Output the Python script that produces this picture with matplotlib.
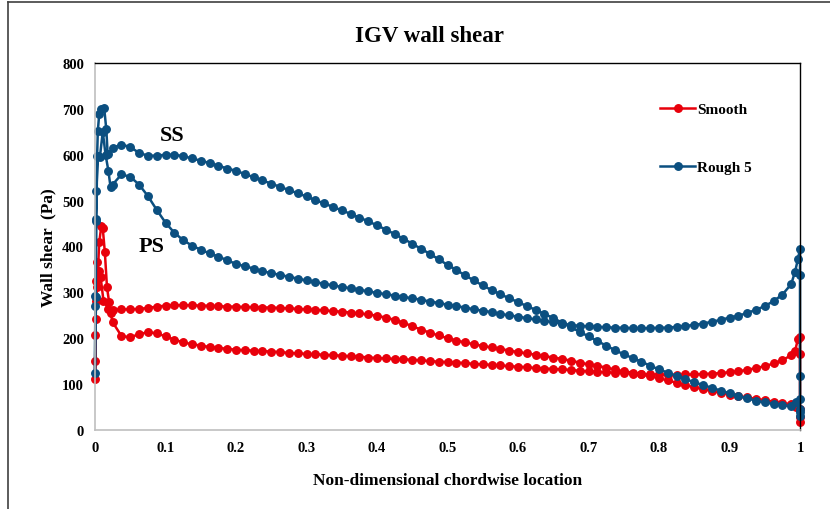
import matplotlib
matplotlib.use('Agg')
import matplotlib.pyplot as plt
from matplotlib.lines import Line2D

plt.rcParams['font.family'] = ['Liberation Serif', 'DejaVu Serif']
plt.rcParams['font.weight'] = 'bold'

# chordwise stations shared by both surfaces (away from leading / trailing edge)
chord = [0.025, 0.0375, 0.05, 0.0625, 0.075, 0.0875, 0.1, 0.1125, 0.125, 0.1375,
         0.15, 0.1625, 0.175, 0.1875, 0.2, 0.2125, 0.225, 0.2375, 0.25, 0.2625,
         0.275, 0.2875, 0.3, 0.3125, 0.325, 0.3375, 0.35, 0.3625, 0.375, 0.3875,
         0.4, 0.4125, 0.425, 0.4375, 0.45, 0.4625, 0.475, 0.4875, 0.5, 0.5125,
         0.525, 0.5375, 0.55, 0.5625, 0.575, 0.5875, 0.6, 0.6125, 0.625, 0.6375,
         0.65, 0.6625, 0.675, 0.6875, 0.7, 0.7125, 0.725, 0.7375, 0.75, 0.7625,
         0.775, 0.7875, 0.8, 0.8125, 0.825, 0.8375, 0.85, 0.8625, 0.875, 0.8875,
         0.9, 0.9125, 0.925, 0.9375, 0.95, 0.9625, 0.975, 0.9875]

rough_ss = [615, 622, 617, 604, 598, 598, 600, 600, 597, 592,
            587, 582, 576, 570, 565, 558, 551, 544, 537, 530,
            523, 516, 509, 501, 494, 486, 479, 471, 463, 455,
            446, 437, 427, 417, 406, 395, 384, 372, 360, 349,
            337, 326, 315, 305, 296, 287, 279, 270, 262, 253,
            244, 234, 224, 214, 204, 194, 184, 174, 165, 157,
            149, 140, 132, 125, 118, 111, 104, 98, 92, 86,
            80, 74, 69, 64, 60, 57, 54, 52]
rough_ps = [535, 557, 552, 535, 510, 480, 452, 430, 414, 402,
            393, 385, 378, 370, 362, 357, 352, 346, 342, 338,
            334, 330, 326, 322, 319, 315, 312, 309, 306, 302,
            299, 296, 293, 290, 287, 284, 280, 277, 273, 270,
            267, 263, 260, 257, 253, 250, 247, 244, 241, 238,
            235, 232, 229, 227, 226, 225, 224, 223, 223, 222,
            222, 222, 223, 223, 225, 227, 229, 232, 236, 240,
            245, 249, 255, 262, 270, 281, 295, 318]
smooth_ss = [262, 263, 263, 264, 266, 269, 271, 272, 272, 272,
             271, 271, 270, 269, 269, 268, 268, 267, 267, 266,
             265, 264, 263, 262, 261, 259, 258, 256, 254, 252,
             249, 245, 240, 234, 226, 219, 212, 206, 200, 195,
             191, 187, 183, 180, 177, 173, 170, 167, 164, 161,
             158, 155, 151, 147, 143, 140, 136, 132, 128, 125,
             121, 117, 113, 108, 103, 98, 93, 89, 85, 81,
             77, 74, 71, 68, 65, 62, 59, 56]
smooth_ps = [235, 205, 202, 209, 213, 211, 204, 197, 191, 187,
             184, 181, 179, 177, 175, 174, 173, 172, 171, 170,
             168, 167, 166, 165, 164, 163, 162, 161, 160, 158,
             157, 156, 155, 154, 153, 152, 150, 149, 148, 147,
             146, 144, 143, 142, 141, 139, 138, 137, 135, 134,
             133, 132, 131, 129, 128, 127, 126, 125, 124, 123,
             122, 121, 121, 120, 120, 121, 121, 122, 123, 124,
             126, 128, 131, 135, 139, 145, 152, 163]

# leading edge points, suction side -> pressure side
rough_le_x = [0.018, 0.016, 0.013, 0.009, 0.006, 0.004, 0.003, 0.002, 0.001, 0.0005,
              0.0, 0.0005, 0.001, 0.002, 0.004, 0.007, 0.011, 0.015, 0.019, 0.022]
rough_le_y = [601, 656, 702, 700, 689, 652, 598, 456, 290, 271,
              125, 293, 460, 522, 598, 596, 650, 600, 565, 530]
smooth_le_x = [0.019, 0.012, 0.008, 0.005, 0.003, 0.002, 0.001, 0.0005, 0.0, 0.0005,
               0.001, 0.003, 0.006, 0.009, 0.011, 0.014, 0.017, 0.02, 0.022]
smooth_le_y = [264, 282, 333, 347, 366, 325, 242, 151, 111, 206,
               282, 311, 409, 445, 440, 387, 311, 279, 255]

# trailing edge points
rough_te_ss_x = [1.0, 0.995]
rough_te_ss_y = [40, 61]
rough_te_ps_x = [0.993, 0.997, 1.0, 1.0, 1.0, 1.0, 1.0, 1.0]
rough_te_ps_y = [345, 372, 395, 338, 118, 68, 46, 31]
smooth_te_ss_x = [1.0, 0.995]
smooth_te_ss_y = [28, 50]
smooth_te_ps_x = [0.993, 0.997, 1.0, 1.0, 1.0, 1.0]
smooth_te_ps_y = [172, 198, 203, 166, 45, 17]

x_ticks = [0, 0.1, 0.2, 0.3, 0.4, 0.5, 0.6, 0.7, 0.8, 0.9, 1]
x_tick_labels = ['0', '0.1', '0.2', '0.3', '0.4', '0.5', '0.6', '0.7', '0.8', '0.9', '1']
y_ticks = [0, 100, 200, 300, 400, 500, 600, 700, 800]


def surface_loop(te_ss_x, te_ss_y, ss, le_x, le_y, ps, te_ps_x, te_ps_y):
    xs = te_ss_x + chord[::-1] + le_x + chord + te_ps_x
    ys = te_ss_y + ss[::-1] + le_y + ps + te_ps_y
    return xs, ys


fig = plt.figure(figsize=(8.3, 5.1), dpi=100)
ax = fig.add_axes([95 / 830, 1 - 431 / 510, 705 / 830, 367 / 510])

red = '#E8000B'
blue = '#0B4F80'

sx, sy = surface_loop(smooth_te_ss_x, smooth_te_ss_y, smooth_ss, smooth_le_x, smooth_le_y,
                      smooth_ps, smooth_te_ps_x, smooth_te_ps_y)
rx, ry = surface_loop(rough_te_ss_x, rough_te_ss_y, rough_ss, rough_le_x, rough_le_y,
                      rough_ps, rough_te_ps_x, rough_te_ps_y)
ax.plot(sx, sy, '-o', color=red, lw=1.8, ms=5.4, label='Smooth', clip_on=False)
ax.plot(rx, ry, '-o', color=blue, lw=1.8, ms=5.4, label='Rough 5', clip_on=False)

ax.set_xlim(0, 1)
ax.set_ylim(0, 800)
ax.set_xticks(x_ticks)
ax.set_xticklabels(x_tick_labels)
ax.set_yticks(y_ticks)
ax.tick_params(length=0, labelsize=10.5, pad=8)
for lab in ax.get_xticklabels() + ax.get_yticklabels():
    lab.set_fontweight('bold')

ax.spines['left'].set_color('#BFBFBF')
ax.spines['bottom'].set_color('#BFBFBF')
ax.spines['left'].set_linewidth(1.2)
ax.spines['bottom'].set_linewidth(1.2)
ax.spines['top'].set_color('black')
ax.spines['right'].set_color('black')
ax.spines['top'].set_linewidth(1.0)
ax.spines['right'].set_linewidth(1.0)

ax.text(0.109, 642, 'SS', fontsize=16, fontweight='bold', ha='center', va='center')
ax.text(0.081, 400, 'PS', fontsize=16, fontweight='bold', ha='center', va='center')

ax.set_xlabel('Non-dimensional chordwise location', fontsize=12.5, fontweight='bold', labelpad=13)
ax.set_ylabel('Wall shear  (Pa)', fontsize=12.5, fontweight='bold', labelpad=4)

fig.text(429 / 830, 1 - 37 / 510, 'IGV wall shear', fontsize=16.5, fontweight='bold',
         ha='center', va='center')

ax.legend(loc='upper left', bbox_to_anchor=(0.782, 0.93), frameon=False,
          prop={'size': 11, 'weight': 'bold'}, labelspacing=2.9,
          handlelength=2.3, handletextpad=0.15)

# outer chart frame
fig.add_artist(Line2D([8 / 830, 8 / 830], [0, 1 - 3 / 510], transform=fig.transFigure,
                      color='#404040', lw=1.2))
fig.add_artist(Line2D([8 / 830, 1], [1 - 3 / 510, 1 - 3 / 510], transform=fig.transFigure,
                      color='#404040', lw=1.2))

fig.savefig('out.png', dpi=100)
